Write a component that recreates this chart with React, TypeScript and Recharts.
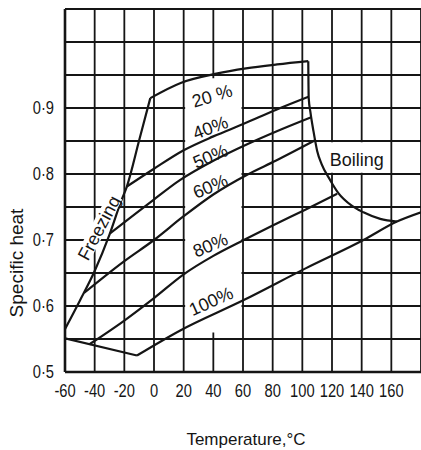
import React from 'react';
import {
  LineChart,
  Line,
  XAxis,
  YAxis,
  CartesianGrid,
  ReferenceArea,
  ReferenceDot,
  Label,
} from 'recharts';

const FONT = '"Liberation Sans", Arial, sans-serif';
const INK = '#151515';

// axis ticks
const X_TICKS = [-60, -40, -20, 0, 20, 40, 60, 80, 100, 120, 140, 160, 180];
const Y_TICKS = [0.5, 0.55, 0.6, 0.65, 0.7, 0.75, 0.8, 0.85, 0.9, 0.95, 1.0, 1.05];

// freezing curve
const FREEZE_T = [-60, -50, -40, -30, -22, -18.3, -10, -2.5];
const FREEZE_CP = [0.565, 0.608, 0.653, 0.708, 0.76, 0.781, 0.851, 0.915];

// boiling curve (drops from the 20% end)
const BOIL_T = [104, 104.3, 105.5, 107.5, 110, 113, 118.7, 124.3, 133.3, 141.2, 152.5, 163.8];
const BOIL_CP = [0.971, 0.915, 0.893, 0.865, 0.835, 0.815, 0.791, 0.771, 0.752, 0.742, 0.732, 0.728];

// bottom edge
const BASE_T = [-60, -11.5];
const BASE_CP = [0.551, 0.525];

// concentration lines
const C20_T = [-2.5, 18, 42, 62, 83, 104];
const C20_CP = [0.915, 0.938, 0.952, 0.96, 0.966, 0.971];

const C40_T = [-18.3, 0, 20, 40, 60.5, 82, 104.2];
const C40_CP = [0.781, 0.808, 0.836, 0.857, 0.876, 0.897, 0.917];

const C50_T = [-29.6, -2.5, 17.7, 40, 62.8, 82, 106];
const C50_CP = [0.71, 0.757, 0.791, 0.82, 0.845, 0.864, 0.886];

const C60_T = [-47, -20, 0, 20, 40, 62.8, 82, 108.6];
const C60_CP = [0.62, 0.668, 0.7, 0.736, 0.769, 0.799, 0.82, 0.851];

const C80_T = [-43.5, -20, 0, 20, 40, 60.5, 80, 102, 123.5];
const C80_CP = [0.542, 0.578, 0.612, 0.648, 0.676, 0.7, 0.722, 0.746, 0.77];

const C100_T = [-11.5, 17.7, 60.5, 102.2, 141.2, 163.8, 180];
const C100_CP = [0.525, 0.563, 0.609, 0.657, 0.7, 0.728, 0.742];

// in-plot annotations: text, anchor temperature, anchor cp, slant
const NOTE_TEXT = ['20 %', '40%', '50%', '60%', '80%', '100%', 'Boiling', 'Freezing'];
const NOTE_T = [39.2, 38, 38, 38, 38, 38.5, 136.7, -37];
const NOTE_CP = [0.918, 0.87, 0.8265, 0.781, 0.692, 0.607, 0.8216, 0.718];
const NOTE_ANGLE = [-17, -21, -23, -23, -23, -24, 0, -62];

const pts = (t: number[], cp: number[]) => t.map((v, i) => ({ t: v, cp: cp[i] }));

const SERIES = [
  { key: 'freeze', data: pts(FREEZE_T, FREEZE_CP), type: 'monotone' },
  { key: 'boil', data: pts(BOIL_T, BOIL_CP), type: 'monotone' },
  { key: 'base', data: pts(BASE_T, BASE_CP), type: 'linear' },
  { key: 'c20', data: pts(C20_T, C20_CP), type: 'monotone' },
  { key: 'c40', data: pts(C40_T, C40_CP), type: 'monotone' },
  { key: 'c50', data: pts(C50_T, C50_CP), type: 'monotone' },
  { key: 'c60', data: pts(C60_T, C60_CP), type: 'monotone' },
  { key: 'c80', data: pts(C80_T, C80_CP), type: 'monotone' },
  { key: 'c100', data: pts(C100_T, C100_CP), type: 'monotone' },
];

const fmtY = (v: number) => {
  const h = Math.round(v * 100);
  if (h % 10 !== 0 || h > 90) return '';
  return `0·${h / 10}`;
};

const fmtX = (v: number) => (v === 180 ? '' : String(v));

// old typeset figures are narrow, so squeeze the glyphs horizontally
function XTick(props: any) {
  const { x, y, payload } = props;
  const s = fmtX(payload.value);
  if (!s) return null;
  return (
    <text
      transform={`translate(${x},${y + 12.7}) scale(0.84,1)`}
      textAnchor="middle"
      fontFamily={FONT}
      fontSize={17.5}
      fill={INK}
    >
      {s}
    </text>
  );
}

function YTick(props: any) {
  const { x, y, payload } = props;
  const s = fmtY(payload.value);
  if (!s) return null;
  return (
    <text
      transform={`translate(${x},${y + 6.3}) scale(0.84,1)`}
      textAnchor="end"
      fontFamily={FONT}
      fontSize={17.5}
      fill={INK}
    >
      {s}
    </text>
  );
}

function note(text: string, angle: number) {
  const withBg = text === 'Freezing';
  return (p: any) => (
    <g transform={`translate(${p.cx},${p.cy}) rotate(${angle})`}>
      {withBg && <rect x={-36} y={-8} width={72} height={15} fill="#fff" />}
      <text
        x={0}
        y={0}
        textAnchor="middle"
        dominantBaseline="central"
        fontFamily={FONT}
        fontSize={18}
        fill={INK}
      >
        {text}
      </text>
    </g>
  );
}

export default function App() {
  return (
    <div style={{ position: 'absolute', left: 0, top: 0, width: 421, height: 450, background: '#fff' }}>
      <LineChart
        width={421}
        height={450}
        margin={{ top: 9, right: 0, bottom: 48, left: 0 }}
      >
        <CartesianGrid stroke={INK} strokeWidth={1.8} />
        <XAxis
          dataKey="t"
          type="number"
          domain={[-60, 180]}
          ticks={X_TICKS}
          allowDataOverflow
          height={30}
          tickLine={false}
          tickSize={6}
          tickMargin={6}
          axisLine={{ stroke: INK, strokeWidth: 2.6 }}
          tick={<XTick />}
          interval={0}
        >
          <Label
            content={(p: any) => (
              <text
                x={p.viewBox.x + p.viewBox.width / 2 + 3}
                y={p.viewBox.y + p.viewBox.height + 43}
                textAnchor="middle"
                fontFamily={FONT}
                fontSize={17}
                fill={INK}
              >
                Temperature,°C
              </text>
            )}
          />
        </XAxis>
        <YAxis
          type="number"
          domain={[0.5, 1.05]}
          ticks={Y_TICKS}
          allowDataOverflow
          width={65}
          tickLine={false}
          tickSize={6}
          tickMargin={5}
          axisLine={{ stroke: INK, strokeWidth: 2.6 }}
          tick={<YTick />}
          interval={0}
        >
          <Label
            content={() => (
              <text
                x={23}
                y={263}
                transform="rotate(-90 23 263)"
                textAnchor="middle"
                fontFamily={FONT}
                fontSize={19}
                fill={INK}
              >
                Specific heat
              </text>
            )}
          />
        </YAxis>
        <ReferenceArea x1={21} x2={59} y1={0.56} y2={0.945} fill="#fff" fillOpacity={1} stroke="none" />
        <ReferenceArea x1={118} x2={152} y1={0.802} y2={0.848} fill="#fff" fillOpacity={1} stroke="none" />
        {SERIES.map((s) => (
          <Line
            key={s.key}
            data={s.data}
            dataKey="cp"
            type={s.type as any}
            stroke={INK}
            strokeWidth={2.2}
            dot={false}
            activeDot={false}
            isAnimationActive={false}
          />
        ))}
        {NOTE_TEXT.map((txt, i) => (
          <ReferenceDot
            key={txt}
            x={NOTE_T[i]}
            y={NOTE_CP[i]}
            r={1}
            shape={note(txt, NOTE_ANGLE[i])}
          />
        ))}
      </LineChart>
    </div>
  );
}
